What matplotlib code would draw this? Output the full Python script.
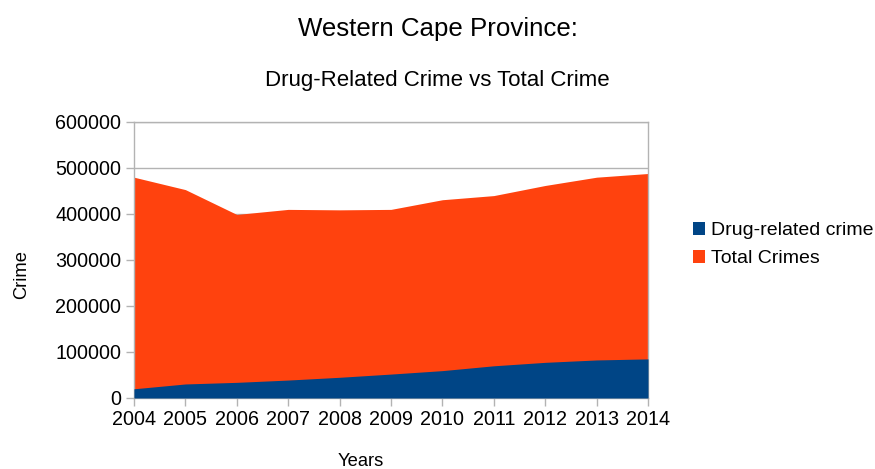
import matplotlib
matplotlib.use("Agg")
import matplotlib.pyplot as plt
from matplotlib.patches import Patch

years = [2004, 2005, 2006, 2007, 2008, 2009, 2010, 2011, 2012, 2013, 2014]
total_crimes = [480000, 453000, 399000, 410000, 409000, 410000, 431000, 440000, 462000, 480000, 488000]
drug_crime = [20000, 30500, 34000, 39000, 45000, 52000, 59500, 70000, 77500, 82700, 85000]
yticks = [0, 100000, 200000, 300000, 400000, 500000, 600000]

plt.rcParams['font.family'] = ['Liberation Sans', 'DejaVu Sans']

fig = plt.figure(figsize=(8.75, 4.69), dpi=100)
ax = fig.add_axes([0.1531, 0.1514, 0.5875, 0.5885])

c_drug = '#004586'
c_total = '#ff420e'
ax.fill_between(years, 0, total_crimes, color=c_total, linewidth=0, zorder=2)
ax.fill_between(years, 0, drug_crime, color=c_drug, linewidth=0, zorder=3)

ax.set_xlim(2004, 2014)
ax.set_ylim(0, 600000)
ax.set_xticks(years)
ax.set_xticklabels([str(y) for y in years])
ax.set_yticks(yticks)
ax.set_yticklabels([str(v) for v in yticks])
ax.yaxis.grid(True, color='#b3b3b3', linewidth=1, zorder=1)
ax.set_axisbelow(True)
for s in ax.spines.values():
    s.set_color('#b3b3b3')
    s.set_linewidth(1)
ax.tick_params(axis='both', colors='#b3b3b3', labelcolor='black', labelsize=14.2, length=6, width=1, pad=3)

ax.set_xlabel('Years', fontsize=13.2, labelpad=17, x=0.4416)
ax.set_ylabel('Crime', fontsize=13.2, labelpad=18, y=0.449)

fig.text(0.5, 0.938, 'Western Cape Province:', ha='center', va='center', fontsize=18.6)
fig.text(0.5, 0.828, 'Drug-Related Crime vs Total Crime', ha='center', va='center', fontsize=16)

handles = [Patch(facecolor=c_drug, label='Drug-related crime'),
           Patch(facecolor=c_total, label='Total Crimes')]
fig.legend(handles=handles, loc='center left', bbox_to_anchor=(0.772, 0.478), frameon=False,
           fontsize=14, handlelength=0.62, handleheight=0.62, handletextpad=0.32, labelspacing=0.56)

fig.savefig('out.png', dpi=100)
